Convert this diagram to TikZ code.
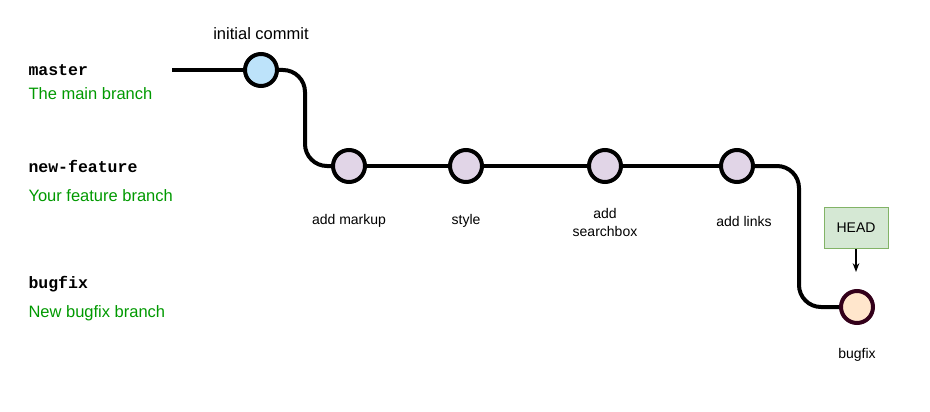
\documentclass[tikz,border=0pt]{standalone}
\usepackage{fontspec}
\setmainfont{Liberation Sans}
\newfontfamily\codefont{Liberation Mono}
\usetikzlibrary{positioning, arrows.meta}
\definecolor{gitblue}{HTML}{BDE3FA}
\definecolor{gitpurple}{HTML}{E1D5E7}
\definecolor{gitorange}{HTML}{FFE6CC}
\definecolor{gitmaroon}{HTML}{33001A}
\definecolor{gitgreen}{HTML}{009900}
\definecolor{headfill}{HTML}{D5E8D4}
\definecolor{headline}{HTML}{82B366}

\begin{document}
\begin{tikzpicture}[x=1pt, y=-1pt, >=Stealth,
        cmt/.style={circle, draw=black, line width=4pt, minimum size=32pt, inner sep=0},
        branch/.style={line width=4pt, rounded corners=22pt},
        brname/.style={anchor=west, font=\codefont\bfseries\fontsize{16.5}{18}\selectfont},
        brnote/.style={anchor=west, text=gitgreen, font=\fontsize{16.5}{18}\selectfont},
        lbl/.style={font=\fontsize{14}{18}\selectfont, align=center}]
        \useasboundingbox (0,0) rectangle (930,412);
        % branch names on the left
        \node[brname] (mastername) at (25,70)  {master};
        \node[brnote] (masternote) at (25,94)  {The main branch};
        \node[brname] (featname)   at (25,166) {new-feature};
        \node[brnote] (featnote)   at (25,196) {Your feature branch};
        \node[brname] (fixname)    at (25,284) {bugfix};
        \node[brnote] (fixnote)    at (25,313) {New bugfix branch};
        % commits
        \coordinate (start) at (172,70);
        \node[cmt, fill=gitblue]   (c0) at (261,70)  {};
        \node[cmt, fill=gitpurple] (c1) at (349,166) {};
        \node[cmt, fill=gitpurple] (c2) at (466,166) {};
        \node[cmt, fill=gitpurple] (c3) at (605,166) {};
        \node[cmt, fill=gitpurple] (c4) at (737,166) {};
        \node[cmt, fill=gitorange, draw=gitmaroon] (c5) at (857,307) {};
        \draw[branch] (start) -- (c0);
        \draw[branch] (c0) -- ++(44,0) |- (c1);
        \foreach \i/\j in {1/2,2/3,3/4}{\draw[branch] (c\i) -- (c\j);}
        \draw[branch] (c4) -- ++(62,0) |- (c5);
        % commit messages
        \node[lbl, font=\fontsize{16.5}{18}\selectfont] at (261,34) {initial commit};
        \node[lbl] at (349,221) {add markup};
        \node[lbl] at (466,221) {style};
        \node[lbl] at (605,222) {add\\searchbox};
        \node[lbl] at (744,221) {add links};
        \node[lbl] at (857,355) {bugfix};
        % head pointer
        \node[lbl, draw=headline, fill=headfill, line width=1pt, minimum width=64pt, minimum height=41pt] (head) at (856,228) {HEAD};
        \coordinate (headtip) at (856,272);
        \draw[->, line width=1.3pt] (head) -- (headtip);
\end{tikzpicture}
\end{document}
